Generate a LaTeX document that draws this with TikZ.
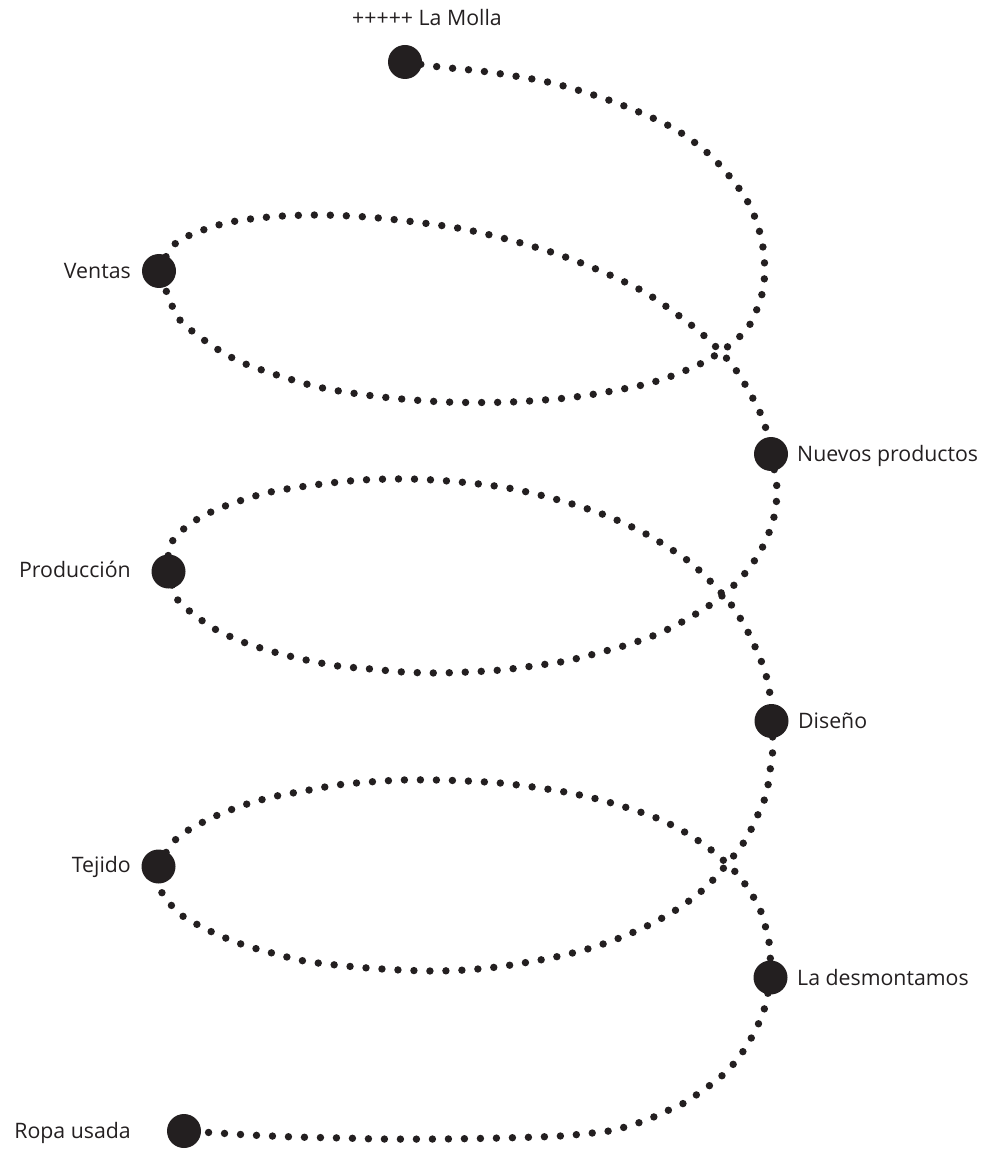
\documentclass[tikz,border=0pt]{standalone}
\usepackage{fontspec}
\setmainfont{Open Sans}
\definecolor{ink}{HTML}{231F20}

\tikzset{
  spring/.style={draw=ink, line width=7.4pt, line cap=round, dash pattern=on 0pt off 16pt},
  bigdot/.style={circle, fill=ink, minimum size=34pt, inner sep=0pt},
  lbl/.style={inner sep=0pt, text=ink, font=\fontsize{21.3}{25}\selectfont},
}

\begin{document}
\begin{tikzpicture}[x=1pt,y=1pt,yscale=-1,xscale=1]
            \useasboundingbox (0,0) rectangle (989,1155);

            % Stations
            \node[bigdot] (molla)       at (405,62)      {};
            \node[bigdot] (ventas)      at (159,271)     {};
            \node[bigdot] (nuevos)      at (771,454)     {};
            \node[bigdot] (produccion)  at (168.5,571.5) {};
            \node[bigdot] (diseno)      at (771.5,721)   {};
            \node[bigdot] (tejido)      at (158.5,866.5) {};
            \node[bigdot] (desmontamos) at (770.5,977.5) {};
            \node[bigdot] (ropa)        at (184,1131)    {};

            % Spring, first turn
            \draw[spring] plot[smooth] coordinates {(molla.center) (440,67) (488,72) (552,83) (614,102) (673,128) (712,157) (743,194) (757,223) (764,255) (763,290) (749,326) (726,348) (700,364) (669,377) (638,386) (575,397) (511,402) (446,402) (382,397) (318,387) (256,368) (227,355) (200,337) (177,316) (ventas.center)};
            \draw[spring] plot[smooth] coordinates {(ventas.center) (177,242) (222,224) (269,217) (318,215) (367,217) (415,222) (463,229) (510,240) (557,254) (603,272) (646,293) (686,321) (711,342) (733,366) (750,393) (764,422) (nuevos.center)};

            % Spring, second turn
            \draw[spring] plot[smooth] coordinates {(nuevos.center) (777,489) (773,521) (760,552) (741,578) (717,600) (689,618) (660,633) (630,644) (598,653) (566,661) (533,666) (501,670) (468,672) (436,673) (403,672) (371,669) (338,666) (306,660) (274,652) (243,642) (213,628) (187,609) (176,597) (produccion.center)};
            \draw[spring] plot[smooth] coordinates {(produccion.center) (169,547) (179,534) (191,523) (220,508) (266,493) (314,485) (362,480) (411,479) (460,482) (508,488) (555,499) (602,514) (646,534) (687,560) (711,582) (733,607) (749,634) (762,663) (767,679) (770,695) (diseno.center)};

            % Spring, third turn
            \draw[spring] plot[smooth] coordinates {(diseno.center) (773,747) (771,763) (769,779) (766,795) (760,810) (746,839) (727,864) (705,888) (679,908) (651,924) (622,937) (591,948) (560,956) (529,962) (497,967) (465,970) (433,971) (400,970) (368,968) (336,965) (304,961) (272,953) (241,944) (212,932) (184,917) (172,906) (162,893) (tejido.center)};
            \draw[spring] plot[smooth] coordinates {(tejido.center) (170,846) (182,834) (196,826) (211,818) (241,806) (272,797) (304,791) (337,785) (369,782) (402,780) (435,780) (467,781) (500,783) (533,787) (565,792) (597,799) (628,808) (659,819) (688,834) (715,853) (739,876) (757,903) (763,918) (767,933) (770,949) (desmontamos.center)};

            % Spring, tail
            \draw[spring] plot[smooth] coordinates {(desmontamos.center) (766,1003) (761,1018) (754,1033) (746,1047) (736,1061) (725,1073) (713,1083) (699,1093) (686,1102) (671,1109) (656,1116) (641,1122) (625,1127) (609,1131) (560,1136) (500,1138) (440,1139) (380,1139) (343,1138) (296,1137) (250,1135) (218,1133) (ropa.center)};

            % Labels
            \node[lbl, anchor=base west] (tmolla)       at (352,26)     {+++++ La Molla};
            \node[lbl, anchor=base east] (tventas)      at (131,278.5)  {Ventas};
            \node[lbl, anchor=base west] (tnuevos)      at (797,461)    {Nuevos productos};
            \node[lbl, anchor=base east] (tproduccion)  at (131,577)    {Producción};
            \node[lbl, anchor=base west] (tdiseno)      at (798,728)    {Diseño};
            \node[lbl, anchor=base east] (ttejido)      at (131,872)    {Tejido};
            \node[lbl, anchor=base west] (tdesmontamos) at (797,985)    {La desmontamos};
            \node[lbl, anchor=base east] (tropa)        at (131,1138.5) {Ropa usada};

            \end{tikzpicture}
\end{document}
